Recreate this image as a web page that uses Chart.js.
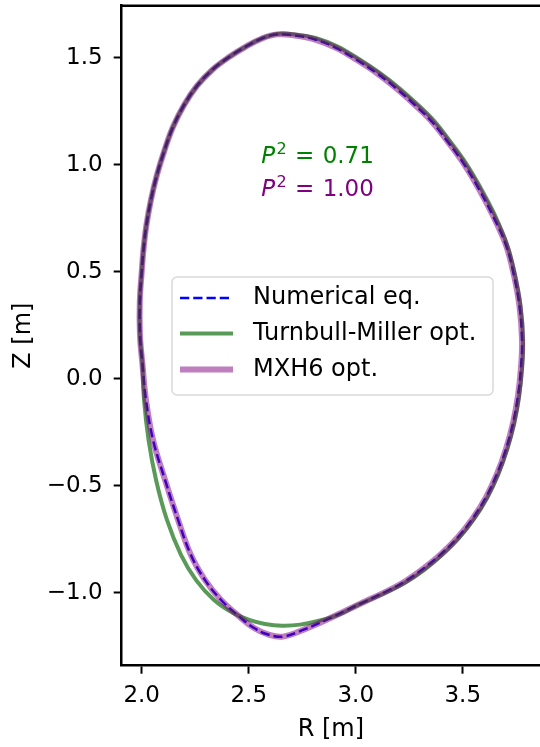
<!DOCTYPE html>
<html>
<head>
<meta charset="utf-8">
<script src="https://cdn.jsdelivr.net/npm/chart.js@4"></script>
<style>
  html, body { margin: 0; padding: 0; background: #fff; }
  #wrap { width: 540px; height: 747px; position: relative; }
</style>
</head>
<body>
<div id="wrap"><canvas id="myChart"></canvas></div>
<script>
  // boundary shapes, R and Z in metres
  var numR = [1.990, 1.992, 1.999, 2.008, 2.022, 2.043, 2.071, 2.107, 2.146, 2.198, 2.258, 2.329, 2.408, 2.487, 2.562, 2.632, 2.716, 2.810, 2.908, 3.006, 3.104, 3.193, 3.277, 3.357, 3.431, 3.506, 3.576, 3.642, 3.702, 3.739, 3.765, 3.777, 3.772, 3.758, 3.735, 3.702, 3.660, 3.609, 3.548, 3.478, 3.399, 3.314, 3.226, 3.137, 3.048, 2.955, 2.861, 2.763, 2.660, 2.590, 2.525, 2.459, 2.371, 2.296, 2.230, 2.170, 2.109, 2.053, 2.020, 2.003, 1.993, 1.990];
  var numZ = [0.284, 0.386, 0.485, 0.601, 0.718, 0.835, 0.952, 1.069, 1.176, 1.279, 1.368, 1.443, 1.503, 1.552, 1.590, 1.609, 1.604, 1.585, 1.546, 1.489, 1.424, 1.354, 1.279, 1.200, 1.106, 1.003, 0.886, 0.760, 0.625, 0.485, 0.340, 0.181, 0.050, -0.081, -0.207, -0.329, -0.445, -0.553, -0.651, -0.740, -0.819, -0.889, -0.950, -0.997, -1.039, -1.083, -1.128, -1.170, -1.205, -1.195, -1.165, -1.114, -1.034, -0.941, -0.824, -0.660, -0.473, -0.286, -0.100, 0.073, 0.181, 0.284];

  var tmR = [1.990, 1.992, 1.999, 2.008, 2.022, 2.043, 2.071, 2.107, 2.146, 2.198, 2.258, 2.329, 2.408, 2.487, 2.562, 2.632, 2.716, 2.812, 2.913, 3.011, 3.109, 3.200, 3.284, 3.364, 3.438, 3.513, 3.583, 3.649, 3.707, 3.744, 3.770, 3.782, 3.777, 3.763, 3.740, 3.707, 3.665, 3.614, 3.553, 3.483, 3.403, 3.319, 3.228, 3.142, 3.011, 2.927, 2.833, 2.740, 2.656, 2.576, 2.506, 2.427, 2.338, 2.254, 2.184, 2.118, 2.067, 2.032, 2.011, 2.003, 1.993, 1.990];
  var tmZ = [0.284, 0.386, 0.485, 0.601, 0.718, 0.835, 0.952, 1.069, 1.176, 1.279, 1.368, 1.443, 1.503, 1.552, 1.590, 1.611, 1.609, 1.592, 1.553, 1.496, 1.431, 1.361, 1.286, 1.207, 1.113, 1.010, 0.893, 0.767, 0.627, 0.485, 0.340, 0.181, 0.046, -0.086, -0.212, -0.333, -0.450, -0.557, -0.655, -0.744, -0.824, -0.894, -0.955, -0.999, -1.057, -1.100, -1.130, -1.149, -1.154, -1.146, -1.128, -1.095, -1.034, -0.941, -0.824, -0.660, -0.473, -0.286, -0.100, 0.073, 0.181, 0.284];

  var mxhR = [1.990, 1.992, 1.999, 2.008, 2.022, 2.043, 2.071, 2.107, 2.146, 2.198, 2.258, 2.329, 2.408, 2.487, 2.562, 2.632, 2.716, 2.810, 2.908, 3.006, 3.104, 3.193, 3.277, 3.357, 3.431, 3.506, 3.576, 3.642, 3.702, 3.739, 3.765, 3.777, 3.772, 3.758, 3.735, 3.702, 3.660, 3.609, 3.548, 3.478, 3.399, 3.314, 3.226, 3.137, 3.048, 2.955, 2.861, 2.763, 2.660, 2.590, 2.525, 2.459, 2.371, 2.296, 2.230, 2.170, 2.109, 2.053, 2.020, 2.003, 1.993, 1.990];
  var mxhZ = [0.284, 0.386, 0.485, 0.601, 0.718, 0.835, 0.952, 1.069, 1.176, 1.279, 1.368, 1.443, 1.503, 1.552, 1.590, 1.609, 1.604, 1.585, 1.546, 1.489, 1.424, 1.354, 1.279, 1.200, 1.106, 1.003, 0.886, 0.760, 0.625, 0.485, 0.340, 0.181, 0.050, -0.081, -0.207, -0.329, -0.445, -0.553, -0.651, -0.740, -0.819, -0.889, -0.950, -0.997, -1.039, -1.083, -1.128, -1.170, -1.205, -1.195, -1.165, -1.114, -1.034, -0.941, -0.824, -0.660, -0.473, -0.286, -0.100, 0.073, 0.181, 0.284];

  var seriesNames = ["Numerical eq.", "Turnbull-Miller opt.", "MXH6 opt."];
  var fitScores = ["0.71", "1.00"];
  var xTicks = [2.0, 2.5, 3.0, 3.5];
  var yTicks = [-1.0, -0.5, 0.0, 0.5, 1.0, 1.5];

  var FONT = "DejaVu Sans";

  function pts(rs, zs) {
    return rs.map(function (r, i) { return { x: r, y: zs[i] }; });
  }
  function fmt(v) {
    var s = Math.abs(v).toFixed(1);
    return v < 0 ? "\u2212" + s : s;
  }

  var frame = {
    id: "frame",
    afterDraw: function (chart) {
      var ctx = chart.ctx, a = chart.chartArea;
      ctx.save();
      ctx.strokeStyle = "#000";
      ctx.lineWidth = 2.5;
      ctx.beginPath();
      ctx.moveTo(a.left - 1.25, a.top);
      ctx.lineTo(a.right, a.top);
      ctx.stroke();

      // fit score labels
      var rows = [
        { txt: fitScores[0], col: "#008000", base: 163.3 },
        { txt: fitScores[1], col: "#800080", base: 196 }
      ];
      rows.forEach(function (r) {
        ctx.fillStyle = r.col;
        ctx.textBaseline = "alphabetic";
        ctx.textAlign = "left";
        ctx.font = "italic 23px " + FONT;
        var wP = ctx.measureText("P").width;
        ctx.font = "16px " + FONT;
        var w2 = ctx.measureText("2").width;
        ctx.font = "23px " + FONT;
        var wEq = ctx.measureText("=").width;
        var wN = ctx.measureText(r.txt).width;
        var total = wP + 1.5 + w2 + 8.4 + wEq + 8.3 + wN;
        var x = 317.5 - total / 2;
        ctx.font = "italic 23px " + FONT;
        ctx.fillText("P", x, r.base);
        x += wP + 1.5;
        ctx.font = "16px " + FONT;
        ctx.fillText("2", x, r.base - 9.3);
        x += w2 + 8.4;
        ctx.font = "23px " + FONT;
        ctx.fillText("=", x, r.base);
        x += wEq + 8.3;
        ctx.fillText(r.txt, x, r.base);
      });

      // legend box
      var bx = 172, by = 277, bw = 321, bh = 118, rad = 5;
      ctx.beginPath();
      ctx.moveTo(bx + rad, by);
      ctx.arcTo(bx + bw, by, bx + bw, by + bh, rad);
      ctx.arcTo(bx + bw, by + bh, bx, by + bh, rad);
      ctx.arcTo(bx, by + bh, bx, by, rad);
      ctx.arcTo(bx, by, bx + bw, by, rad);
      ctx.closePath();
      ctx.fillStyle = "rgba(255,255,255,0.8)";
      ctx.fill();
      ctx.strokeStyle = "#d9d9d9";
      ctx.lineWidth = 1.5;
      ctx.stroke();

      var rowY = [298, 333.5, 369.5];
      chart.data.datasets.forEach(function (ds, i) {
        ctx.beginPath();
        ctx.strokeStyle = ds.borderColor;
        ctx.lineWidth = ds.borderWidth;
        ctx.setLineDash(ds.borderDash || []);
        ctx.moveTo(180, rowY[i]);
        ctx.lineTo(233, rowY[i]);
        ctx.stroke();
        ctx.setLineDash([]);
        ctx.fillStyle = "#000";
        ctx.font = "24px " + FONT;
        ctx.textBaseline = "middle";
        ctx.fillText(ds.label, 253, rowY[i]);
      });
      ctx.restore();
    }
  };

  new Chart("myChart", {
    type: "scatter",
    data: {
      datasets: [{
        label: seriesNames[0],
        data: pts(numR, numZ),
        showLine: true,
        pointRadius: 0,
        tension: 0.4,
        borderColor: "rgb(0,0,255)",
        borderWidth: 2.5,
        borderDash: [9.25, 4],
        order: 3
      }, {
        label: seriesNames[1],
        data: pts(tmR, tmZ),
        showLine: true,
        pointRadius: 0,
        tension: 0.4,
        borderColor: "rgba(0,100,0,0.65)",
        borderWidth: 4,
        order: 2
      }, {
        label: seriesNames[2],
        data: pts(mxhR, mxhZ),
        showLine: true,
        pointRadius: 0,
        tension: 0.4,
        borderColor: "rgba(128,0,128,0.5)",
        borderWidth: 6,
        order: 1
      }]
    },
    options: {
      animation: false,
      responsive: true,
      maintainAspectRatio: false,
      layout: { padding: { top: 5.7, right: 0, left: 0, bottom: 0 } },
      plugins: {
        legend: { display: false },
        tooltip: { enabled: false }
      },
      scales: {
        x: {
          type: "linear",
          min: 1.9065,
          max: 3.861,
          afterBuildTicks: function (sc) { sc.ticks = xTicks.map(function (v) { return { value: v }; }); },
          afterFit: function (sc) { sc.height = 81.3; sc.paddingLeft = 0; sc.paddingRight = 0; },
          ticks: {
            callback: function (v) { return fmt(v); },
            color: "#000",
            font: { family: FONT, size: 23 },
            padding: 9,
            maxRotation: 0
          },
          grid: { drawOnChartArea: false, tickLength: 8, tickWidth: 2, tickColor: "#000" },
          border: { display: true, color: "#000", width: 2.5 },
          title: { display: true, text: "R [m]", color: "#000", font: { family: FONT, size: 24 }, padding: { top: 0, bottom: 3 } }
        },
        y: {
          type: "linear",
          min: -1.341,
          max: 1.743,
          afterBuildTicks: function (sc) { sc.ticks = yTicks.map(function (v) { return { value: v }; }); },
          afterFit: function (sc) { sc.width = 121.7; sc.paddingTop = 0; sc.paddingBottom = 0; },
          ticks: {
            callback: function (v) { return fmt(v); },
            color: "#000",
            font: { family: FONT, size: 23 },
            padding: 11
          },
          grid: { drawOnChartArea: false, tickLength: 8, tickWidth: 2, tickColor: "#000" },
          border: { display: true, color: "#000", width: 2.5 },
          title: { display: true, text: "Z [m]", color: "#000", font: { family: FONT, size: 24 }, padding: { top: 9, bottom: 0 } }
        }
      }
    },
    plugins: [frame]
  });
</script>
</body>
</html>
